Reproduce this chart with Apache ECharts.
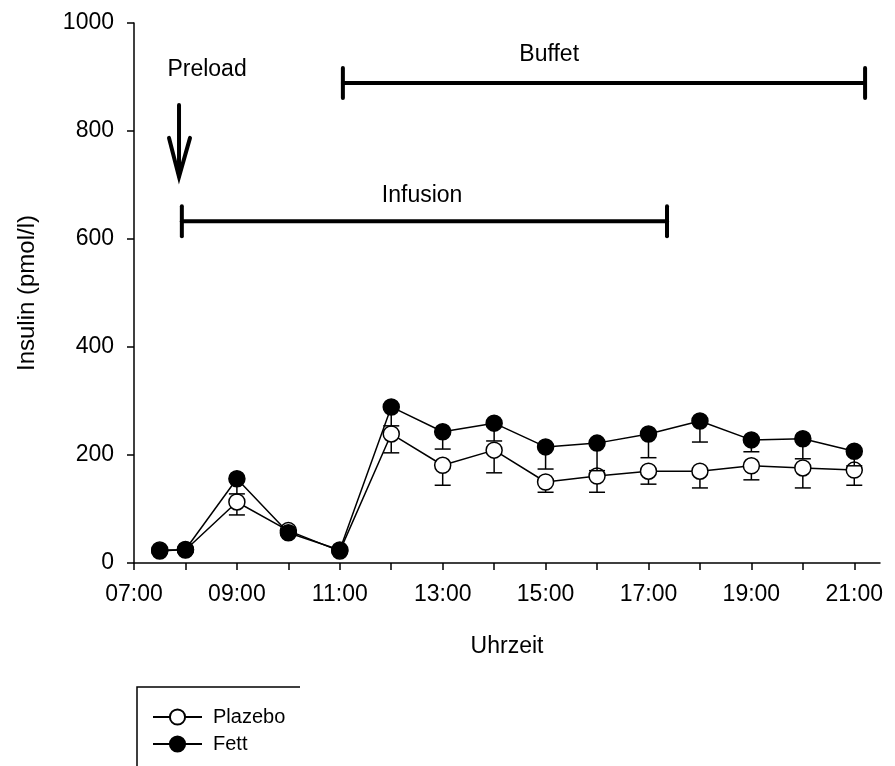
<!DOCTYPE html>
<html><head><meta charset="utf-8">
<script src="https://cdn.jsdelivr.net/npm/echarts@6/dist/echarts.min.js"></script>
<style>html,body{margin:0;padding:0;background:#fff}#c{width:895px;height:766px}</style>
</head><body><div id="c"></div><script>
// ---- data ----
const times = [7.5, 8, 9, 10, 11, 12, 13, 14, 15, 16, 17, 18, 19, 20, 21];
const plazebo = [24, 24, 113, 60, 22, 239, 181, 209, 150, 161, 170, 170, 180, 176, 172];
const plazeboLow = [20, 20, 89, 55, 18, 204, 144, 167, 131, 131, 146, 139, 154, 139, 144];
const fett = [22, 25, 156, 56, 24, 289, 243, 259, 215, 222, 239, 263, 228, 230, 207];
const fettLow = [18, 21, 128, 52, 20, 254, 211, 226, 174, 171, 195, 224, 206, 193, 180];
const tickTimes = [7, 8, 9, 10, 11, 12, 13, 14, 15, 16, 17, 18, 19, 20, 21];
const labelTimes = [7, 9, 11, 13, 15, 17, 19, 21];
const tickLabels = ['07:00', '09:00', '11:00', '13:00', '15:00', '17:00', '19:00', '21:00'];
// annotation spans: [start, end, level]
const spans = [[7.93, 17.36, 633], [11.06, 21.21, 889]];
// arrow: [time, top, bottom]
const arrows = [[7.875, 848, 715]];
// texts
const noteNames = ['Preload', 'Infusion', 'Buffet'];
const notePos = [[8.42, 913], [12.6, 681], [15.07, 941]];

const FONT = '"Liberation Sans", Arial, sans-serif';

function pack(a, b, c) { return a.map((v, i) => [v, b[i], c[i]]); }

function errRender(params, api) {
  const x = api.value(0), v = api.value(1), lo = api.value(2);
  const p1 = api.coord([x, v]), p2 = api.coord([x, lo]);
  const hw = 8;
  return { type: 'group', children: [
    { type: 'line', shape: { x1: p1[0], y1: p1[1], x2: p2[0], y2: p2[1] }, style: { stroke: '#000', lineWidth: 1.5 } },
    { type: 'line', shape: { x1: p2[0] - hw, y1: p2[1], x2: p2[0] + hw, y2: p2[1] }, style: { stroke: '#000', lineWidth: 1.5 } }
  ]};
}
function spanRender(params, api) {
  const a = api.coord([api.value(0), api.value(2)]);
  const b = api.coord([api.value(1), api.value(2)]);
  const h = 15;
  const st = { stroke: '#000', lineWidth: 4, lineCap: 'round' };
  return { type: 'group', children: [
    { type: 'line', shape: { x1: a[0], y1: a[1], x2: b[0], y2: b[1] }, style: st },
    { type: 'line', shape: { x1: a[0], y1: a[1] - h, x2: a[0], y2: a[1] + h }, style: st },
    { type: 'line', shape: { x1: b[0], y1: b[1] - h, x2: b[0], y2: b[1] + h }, style: st }
  ]};
}
function arrowRender(params, api) {
  const t = api.coord([api.value(0), api.value(1)]);
  const b = api.coord([api.value(0), api.value(2)]);
  return { type: 'group', children: [
    { type: 'line', shape: { x1: t[0], y1: t[1], x2: b[0], y2: b[1] - 2 }, style: { stroke: '#000', lineWidth: 4, lineCap: 'round' } },
    { type: 'polyline', shape: { points: [[b[0] - 10, b[1] - 39], [b[0], b[1]], [b[0] + 11, b[1] - 39]] }, style: { stroke: '#000', fill: null, lineWidth: 4, lineCap: 'round', lineJoin: 'miter' } }
  ]};
}
function textRender(params, api) {
  const p = api.coord([api.value(0), api.value(1)]);
  return { type: 'text', x: p[0], y: p[1], style: { text: noteNames[params.dataIndex], fill: '#000', fontSize: 23, fontFamily: FONT, align: 'center', verticalAlign: 'middle' } };
}

const chart = echarts.init(document.getElementById('c'), null, { renderer: 'canvas' });
chart.setOption({
  animation: false,
  backgroundColor: '#fff',
  grid: { left: 134, right: 15, top: 23, bottom: 203, containLabel: false },
  graphic: [
    { type: 'polyline', shape: { points: [[137, 800], [137, 687], [300, 687]] }, style: { fill: null, stroke: '#000', lineWidth: 1.5 }, silent: true }
  ],
  legend: {
    orient: 'vertical', left: 152, top: 707,
    padding: 0,
    itemWidth: 49, itemHeight: 19, itemGap: 7,
    textStyle: { fontSize: 20, color: '#000', fontFamily: FONT, padding: [0, 0, 0, 6] },
    data: ['Plazebo', 'Fett']
  },
  xAxis: {
    type: 'value', min: 7, max: 21.5, interval: 1,
    name: 'Uhrzeit', nameLocation: 'middle', nameGap: 72,
    nameTextStyle: { fontSize: 23, color: '#000', fontFamily: FONT },
    axisLine: { show: true, onZero: false, lineStyle: { color: '#000', width: 1.5 } },
    axisTick: { show: true, length: 7, customValues: tickTimes, lineStyle: { color: '#000', width: 1.5 } },
    axisLabel: { customValues: labelTimes, fontSize: 23, color: '#000', fontFamily: FONT, margin: 20,
      formatter: v => tickLabels[labelTimes.indexOf(v)] || '' },
    splitLine: { show: false }
  },
  yAxis: {
    type: 'value', min: 0, max: 1000, interval: 200,
    name: 'Insulin (pmol/l)', nameLocation: 'middle', nameGap: 95, nameRotate: 90,
    nameTextStyle: { fontSize: 24, color: '#000', fontFamily: FONT },
    axisLine: { show: true, lineStyle: { color: '#000', width: 1.5 } },
    axisTick: { show: true, length: 7, lineStyle: { color: '#000', width: 1.5 } },
    axisLabel: { fontSize: 23, color: '#000', fontFamily: FONT, margin: 20, formatter: v => String(v) },
    splitLine: { show: false }
  },
  series: [
    { type: 'custom', name: 'errP', renderItem: errRender, data: pack(times, plazebo, plazeboLow), encode: { x: 0, y: [1, 2] }, z: 2, silent: true },
    { type: 'line', name: 'Plazebo', data: times.map((t, i) => [t, plazebo[i]]), z: 3,
      symbol: 'circle', symbolSize: 16, showAllSymbol: true,
      lineStyle: { color: '#000', width: 1.5 },
      itemStyle: { color: '#fff', borderColor: '#000', borderWidth: 1.5 } },
    { type: 'custom', name: 'errF', renderItem: errRender, data: pack(times, fett, fettLow), encode: { x: 0, y: [1, 2] }, z: 4, silent: true },
    { type: 'line', name: 'Fett', data: times.map((t, i) => [t, fett[i]]), z: 5,
      symbol: 'circle', symbolSize: 16, showAllSymbol: true,
      lineStyle: { color: '#000', width: 1.5 },
      itemStyle: { color: '#000', borderColor: '#000', borderWidth: 1.5 } },
    { type: 'custom', name: 'spans', renderItem: spanRender, data: spans, encode: { x: [0, 1], y: 2 }, z: 6, silent: true },
    { type: 'custom', name: 'arrows', renderItem: arrowRender, data: arrows, encode: { x: 0, y: [1, 2] }, z: 6, silent: true },
    { type: 'custom', name: 'notes', renderItem: textRender, data: notePos, encode: { x: 0, y: 1 }, z: 6, silent: true }
  ]
});
</script></body></html>
